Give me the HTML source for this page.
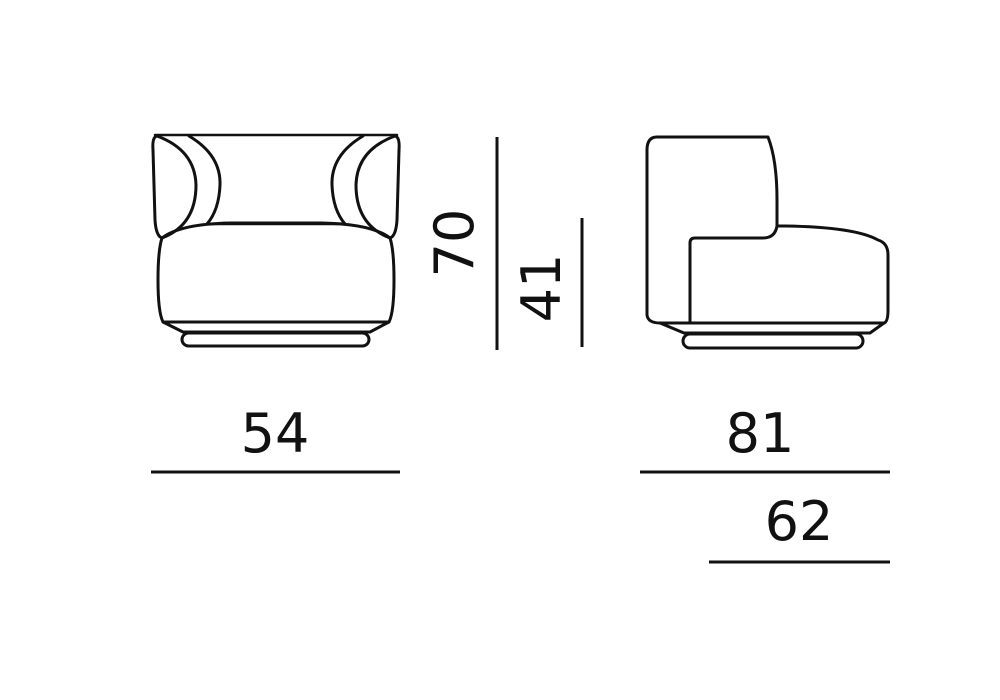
<!DOCTYPE html>
<html><head><meta charset="utf-8"><style>
html,body{margin:0;padding:0;background:#fff;width:1000px;height:700px;overflow:hidden}
svg{display:block}
text{font-family:"DejaVu Sans","Liberation Sans",sans-serif;fill:#111}
</style></head><body>
<svg width="1000" height="700" viewBox="0 0 1000 700" xmlns="http://www.w3.org/2000/svg">
<g fill="none" stroke="#111" stroke-width="3" stroke-linejoin="round" stroke-linecap="round">
<!-- front view -->
<line x1="155" y1="135" x2="397" y2="135" stroke-width="2.5"/>
<path d="M157 136 Q152 137 153 150 L155 220 Q156 236 162 238"/>
<path d="M395 136 Q400 137 399 150 L397 220 Q396 236 390 238"/>
<path d="M157 136 Q195 150 196 185 Q196 225 162 238"/>
<path d="M395 136 Q357 150 356 185 Q356 225 390 238"/>
<path d="M189 136 Q221 155 220 185 Q219 210 207 224"/>
<path d="M363 136 Q331 155 332 185 Q333 210 345 224"/>
<line x1="207" y1="224" x2="345" y2="224" stroke-width="2.5"/>
<path d="M162 238 Q180 224 230 223 L322 223 Q372 224 390 238"/>
<path d="M162 238 Q158 250 158 280 Q158 312 163 322 L389 322 Q394 312 394 280 Q394 250 390 238"/>
<path d="M163 322 L183 332 L370 332 L389 322"/>
<rect x="182" y="333" width="187" height="13" rx="6.5"/>
<!-- side view -->
<path d="M657 137 L768 137 Q777 160 777 200 L777 226 Q775 238 763 238 L695 238 Q690 238 690 243 L690 323"/>
<path d="M657 137 Q647 137 647 150 L647 315 Q648 323 660 323 L884 323 Q888 322 888 310 L888 255 Q888 243 878 240 Q855 227 785 226 L777 226"/>
<path d="M660 323 L684 333 L870 333 L884 323"/>
<rect x="683" y="334" width="180" height="14" rx="7"/>
</g>
<g stroke="#111" stroke-width="3">
<line x1="497" y1="137" x2="497" y2="350"/>
<line x1="582" y1="218" x2="582" y2="347"/>
<line x1="151" y1="472" x2="400" y2="472"/>
<line x1="640" y1="472" x2="890" y2="472"/>
<line x1="709" y1="562" x2="890" y2="562"/>
</g>
<text x="275" y="452" font-size="54" text-anchor="middle">54</text>
<text x="760" y="452" font-size="54" text-anchor="middle">81</text>
<text x="799" y="540" font-size="54" text-anchor="middle">62</text>
<text transform="translate(473,243) rotate(-90)" font-size="54" text-anchor="middle">70</text>
<text transform="translate(560,288) rotate(-90)" font-size="54" text-anchor="middle">41</text>
</svg>
</body></html>
